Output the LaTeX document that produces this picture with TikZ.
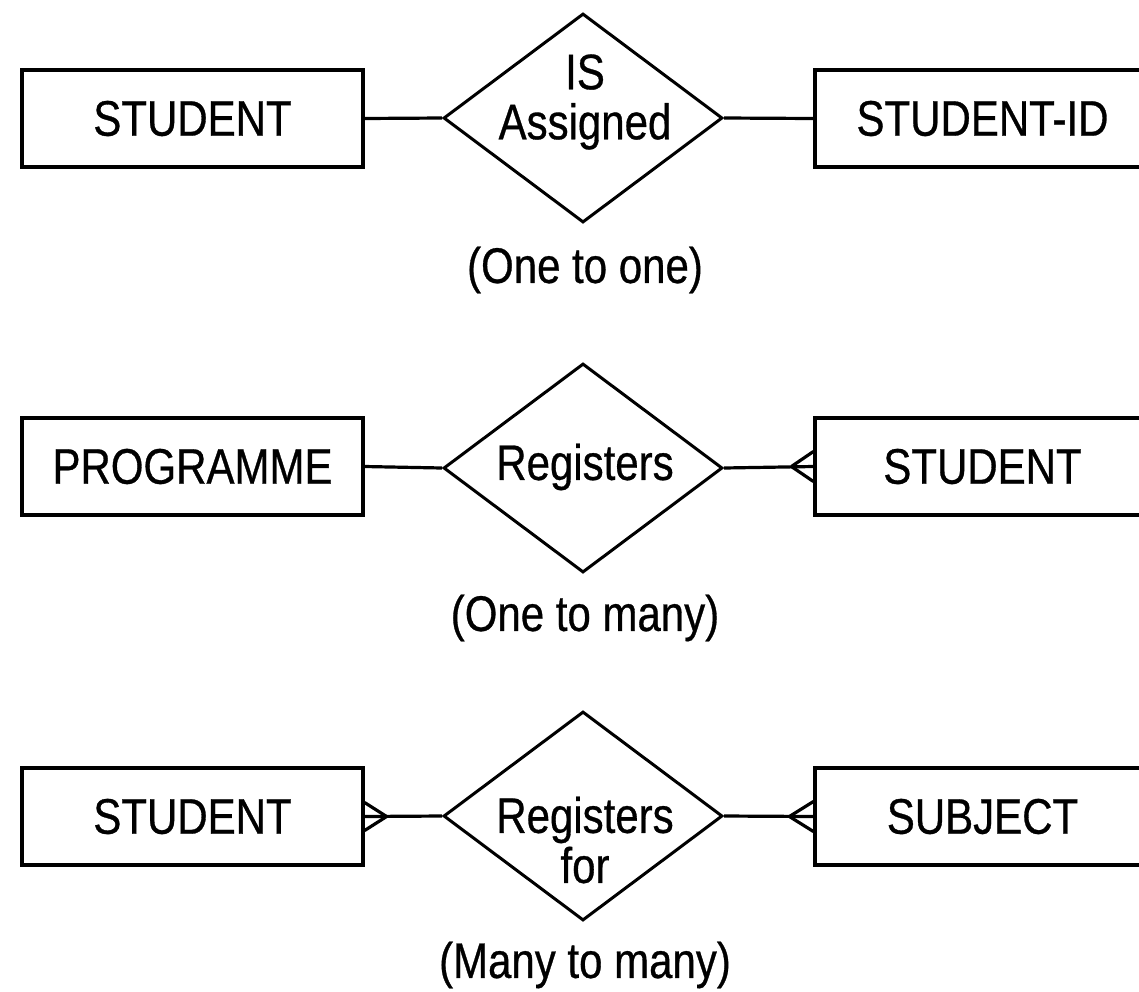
\documentclass[tikz,border=0pt]{standalone}
\usepackage{fontspec}
\setmainfont{Liberation Sans}[FakeStretch=0.84,FakeBold=0.6]
\usetikzlibrary{shapes.geometric,calc}
\begin{document}
\begin{tikzpicture}[x=0.5pt,y=-0.5pt,
  every node/.style={font=\fontsize{25pt}{25pt}\selectfont},
  ent/.style={draw,line width=1.6pt,minimum width=170.5pt,minimum height=48.5pt,inner sep=0pt},
  entr/.style={draw,line width=1.6pt,minimum width=167.5pt,minimum height=48.5pt,inner sep=0pt},
  rel/.style={draw,diamond,line width=1.5pt,minimum width=139.5pt,minimum height=104.5pt,inner sep=0pt},
  conn/.style={line width=1.6pt},
  captext/.style={inner sep=0pt}]
\useasboundingbox (0,0) rectangle (1139,991);
\clip (0,0) rectangle (1139,991);
% Row 1
\node[ent] (e1) at (192.5,118.5) {STUDENT};
\node[rel] (r1) at (583,118) {};
\node[align=center,inner sep=0pt] (t1) at (585,102) {IS\\Assigned};
\node[entr] (f1) at (982.5,118.5) {STUDENT-ID};
\node[captext] (c1) at (585,270) {(One to one)};
\draw[conn] (e1.east) -- (r1.west);
\draw[conn] (r1.east) -- (f1.west);
% Row 2
\node[ent] (e2) at (192.5,466.5) {PROGRAMME};
\node[rel] (r2) at (583,468) {};
\node[inner sep=0pt] (t2) at (585,467) {Registers};
\node[entr] (f2) at (982.5,466.5) {STUDENT};
\node[captext] (c2) at (585,618) {(One to many)};
\draw[conn] (e2.east) -- (r2.west);
\draw[conn] (r2.east) -- (f2.west);
\draw[conn] ($(f2.west)+(-22,0)$) -- ($(f2.west)+(0,-15)$);
\draw[conn] ($(f2.west)+(-22,0)$) -- ($(f2.west)+(0,15)$);
% Row 3
\node[ent] (e3) at (192.5,816.5) {STUDENT};
\node[rel] (r3) at (583,816) {};
\node[align=center,inner sep=0pt] (t3) at (585,840) {Registers\\for};
\node[entr] (f3) at (982.5,816.5) {SUBJECT};
\node[captext] (c3) at (585,965) {(Many to many)};
\draw[conn] (e3.east) -- (r3.west);
\draw[conn] (r3.east) -- (f3.west);
\draw[conn] ($(e3.east)+(22,0)$) -- ($(e3.east)+(0,-14)$);
\draw[conn] ($(e3.east)+(22,0)$) -- ($(e3.east)+(0,14)$);
\draw[conn] ($(f3.west)+(-24,0)$) -- ($(f3.west)+(0,-15)$);
\draw[conn] ($(f3.west)+(-24,0)$) -- ($(f3.west)+(0,15)$);
\end{tikzpicture}
\end{document}
